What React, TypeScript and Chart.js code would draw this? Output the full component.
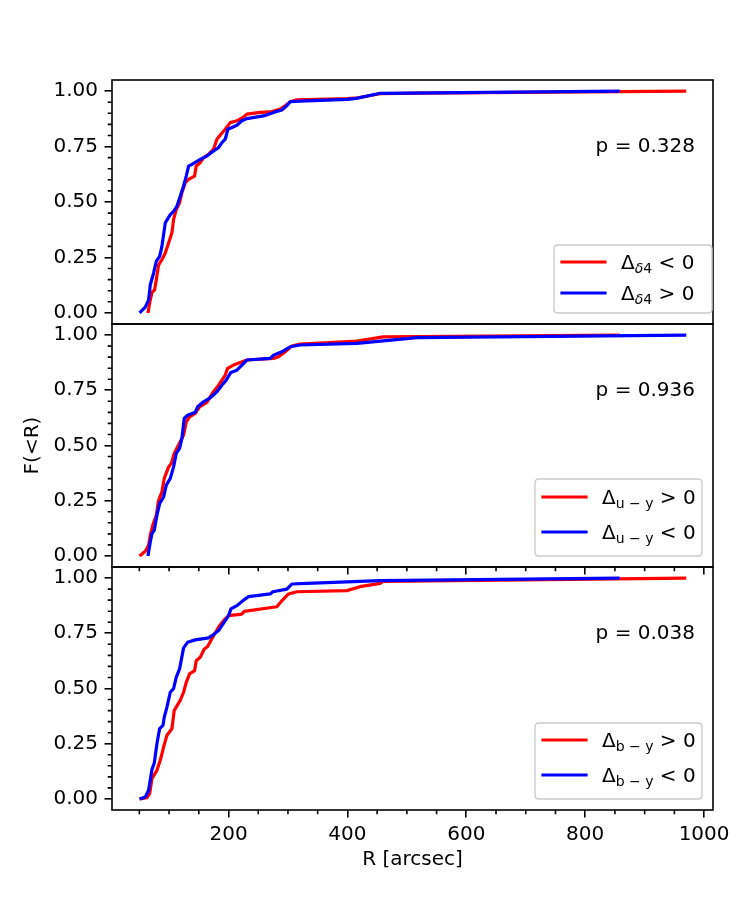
import React, { useEffect, useRef } from "react";
import { Chart, registerables } from "chart.js";

Chart.register(...registerables);

// ---- data: cumulative fraction F(<R) vs projected radius R [arcsec] ----

// Δδ4 < 0
const d4NegR = [64.5, 68.4, 71.2, 75.7, 78.5, 82.4, 88.0, 93.6, 99.2, 104.8, 107.6, 112.1, 117.7, 121.6, 127.2, 132.8, 142.9, 145.7, 152.4, 158.0, 166.4, 174.8, 180.5, 187.2, 194.5, 202.9, 214.1, 224.2, 230.9, 253.3, 270.1, 286.9, 295.3, 303.7, 314.9, 400, 418, 455, 520, 970];
const d4NegF = [0, 0.059, 0.092, 0.104, 0.149, 0.217, 0.24, 0.27, 0.315, 0.361, 0.421, 0.466, 0.496, 0.542, 0.587, 0.602, 0.617, 0.662, 0.677, 0.7, 0.715, 0.738, 0.783, 0.805, 0.828, 0.858, 0.866, 0.881, 0.896, 0.904, 0.906, 0.919, 0.934, 0.952, 0.961, 0.966, 0.97, 0.988, 0.991, 1.0];
// Δδ4 > 0
const d4PosR = [50.4, 60.0, 65.6, 68.4, 74.0, 78.5, 84.1, 88.0, 93.6, 102.0, 107.6, 113.2, 118.8, 124.4, 128.9, 132.8, 138.4, 152.4, 163.6, 174.8, 183.2, 188.9, 194.5, 198.9, 205.7, 214.1, 222.5, 230.9, 258.9, 275.7, 289.7, 298.1, 303.7, 320.5, 400, 415, 455, 858];
const d4PosF = [0, 0.026, 0.059, 0.127, 0.18, 0.232, 0.255, 0.3, 0.406, 0.443, 0.458, 0.481, 0.526, 0.572, 0.617, 0.662, 0.67, 0.692, 0.707, 0.73, 0.745, 0.768, 0.783, 0.828, 0.836, 0.846, 0.866, 0.876, 0.888, 0.904, 0.915, 0.934, 0.952, 0.955, 0.963, 0.967, 0.99, 1.0];

// Δu−y > 0
const uyPosR = [50.4, 60.0, 65.6, 68.4, 72.9, 78.5, 82.4, 88.0, 91.9, 99.2, 103.7, 108.7, 114.3, 118.8, 124.4, 128.9, 134.5, 144.0, 151.3, 163.6, 173.7, 183.2, 188.9, 194.5, 198.4, 208.5, 219.7, 230.9, 275.7, 284.1, 295.3, 306.5, 320.5, 416, 460, 858];
const uyPosF = [0, 0.021, 0.048, 0.094, 0.142, 0.184, 0.252, 0.29, 0.351, 0.403, 0.419, 0.464, 0.494, 0.517, 0.547, 0.607, 0.63, 0.645, 0.675, 0.695, 0.74, 0.773, 0.796, 0.819, 0.849, 0.864, 0.876, 0.887, 0.894, 0.902, 0.924, 0.95, 0.959, 0.973, 0.992, 1.0];
// Δu−y < 0
const uyNegR = [64.5, 68.4, 71.2, 75.1, 79.6, 84.1, 90.8, 95.3, 102.0, 107.6, 112.1, 117.7, 121.6, 125.5, 131.1, 144.0, 148.0, 158.0, 169.2, 180.5, 188.9, 196.1, 204.0, 214.1, 222.5, 230.9, 270.1, 275.7, 289.7, 303.7, 320.5, 416, 517, 970];
const uyNegF = [0, 0.063, 0.101, 0.116, 0.184, 0.237, 0.267, 0.32, 0.351, 0.403, 0.464, 0.487, 0.532, 0.623, 0.637, 0.65, 0.675, 0.698, 0.716, 0.743, 0.773, 0.796, 0.831, 0.841, 0.864, 0.887, 0.894, 0.909, 0.924, 0.947, 0.955, 0.962, 0.988, 1.0];

// Δb−y > 0
const byPosR = [50.4, 62.8, 67.3, 71.2, 79.6, 85.2, 90.8, 96.4, 104.8, 108.7, 118.8, 124.4, 128.9, 134.5, 143.0, 145.7, 152.4, 159.2, 164.8, 174.8, 183.2, 191.6, 200.1, 222.5, 226.4, 281.3, 289.7, 300.9, 315, 399, 421, 455, 460, 970];
const byPosF = [0, 0.006, 0.024, 0.092, 0.13, 0.175, 0.235, 0.288, 0.318, 0.401, 0.446, 0.483, 0.528, 0.566, 0.581, 0.626, 0.641, 0.679, 0.69, 0.739, 0.777, 0.807, 0.83, 0.837, 0.849, 0.87, 0.897, 0.928, 0.938, 0.943, 0.961, 0.976, 0.985, 1.0];
// Δb−y < 0
const byNegR = [50.4, 60.0, 65.6, 71.2, 75.1, 79.6, 84.1, 89.7, 91.9, 96.4, 102.0, 107.6, 112.1, 117.7, 124.4, 131.1, 144.0, 166.4, 174.8, 183.2, 194.5, 200.1, 204.0, 214.1, 225.3, 233.7, 270.1, 274.6, 298.1, 306.5, 331.7, 455, 858];
const byNegF = [0, 0.009, 0.039, 0.133, 0.163, 0.25, 0.318, 0.333, 0.37, 0.416, 0.483, 0.499, 0.551, 0.589, 0.684, 0.709, 0.72, 0.729, 0.744, 0.762, 0.807, 0.83, 0.86, 0.875, 0.9, 0.916, 0.928, 0.938, 0.95, 0.973, 0.976, 0.988, 1.0];

// KS p-values shown in each panel
const pLabels = ["p = 0.328", "p = 0.936", "p = 0.038"];

// axis ticks
const xTickValues = [200, 400, 600, 800, 1000];
const yTickValues = [0, 0.25, 0.5, 0.75, 1.0];
const xRange = [4, 1015];
const yRange = [-0.05, 1.05];

// ---- layout ----
const W = 750;
const H = 900;
const LEFT = 112;
const RIGHT = 713;
const FONT = "'DejaVu Sans', 'Liberation Sans', sans-serif";
const FS = 20;
const SUB_FS = 14;

type Seg = { t: string; it?: boolean };
type Entry = { color: string; sub: Seg[]; rel: string };
type LegendBox = { right: number; bottom: number; w: number; h: number; rows: number[] };
type Panel = {
  red: [number[], number[]];
  blue: [number[], number[]];
  p: string;
  entries: Entry[];
  top: number;
  bottom: number;
  legend: LegendBox;
};

const panels: Panel[] = [
  {
    red: [d4NegR, d4NegF],
    blue: [d4PosR, d4PosF],
    p: pLabels[0],
    entries: [
      { color: "#ff0000", sub: [{ t: "δ", it: true }, { t: "4" }], rel: "< 0" },
      { color: "#0000ff", sub: [{ t: "δ", it: true }, { t: "4" }], rel: "> 0" },
    ],
    top: 80,
    bottom: 324,
    legend: { right: 1, bottom: 11, w: 158, h: 68, rows: [17, 48] },
  },
  {
    red: [uyPosR, uyPosF],
    blue: [uyNegR, uyNegF],
    p: pLabels[1],
    entries: [
      { color: "#ff0000", sub: [{ t: "u − y" }], rel: "> 0" },
      { color: "#0000ff", sub: [{ t: "u − y" }], rel: "< 0" },
    ],
    top: 324,
    bottom: 567,
    legend: { right: 11, bottom: 11, w: 167, h: 77, rows: [18, 53] },
  },
  {
    red: [byPosR, byPosF],
    blue: [byNegR, byNegF],
    p: pLabels[2],
    entries: [
      { color: "#ff0000", sub: [{ t: "b − y" }], rel: "> 0" },
      { color: "#0000ff", sub: [{ t: "b − y" }], rel: "< 0" },
    ],
    top: 567,
    bottom: 810,
    legend: { right: 11, bottom: 11, w: 167, h: 76, rows: [17, 52] },
  },
];

function toPoints(series: [number[], number[]]) {
  const [rs, fs] = series;
  return rs.map((r, i) => ({ x: r, y: fs[i] }));
}

function roundRect(ctx: CanvasRenderingContext2D, x: number, y: number, w: number, h: number, r: number) {
  ctx.beginPath();
  ctx.moveTo(x + r, y);
  ctx.lineTo(x + w - r, y);
  ctx.quadraticCurveTo(x + w, y, x + w, y + r);
  ctx.lineTo(x + w, y + h - r);
  ctx.quadraticCurveTo(x + w, y + h, x + w - r, y + h);
  ctx.lineTo(x + r, y + h);
  ctx.quadraticCurveTo(x, y + h, x, y + h - r);
  ctx.lineTo(x, y + r);
  ctx.quadraticCurveTo(x, y, x + r, y);
  ctx.closePath();
}

// frame, minor ticks, p-value and legend of one panel
function makeDecor(panel: Panel, idx: number) {
  return {
    id: "panelDecor" + idx,
    afterDraw(chart: any) {
      const { ctx, chartArea: a } = chart;
      const xs = chart.scales.x;
      const ys = chart.scales.y;
      ctx.save();
      ctx.strokeStyle = "#000";
      ctx.lineWidth = 1.6;
      ctx.beginPath();
      for (let k = 1; k < 20; k++) {
        if (k % 5 === 0) continue;
        const py = ys.getPixelForValue(k * 0.05);
        ctx.moveTo(a.left, py);
        ctx.lineTo(a.left - 4.3, py);
      }
      if (idx > 0) {
        for (let k = 1; k <= 20; k++) {
          if (k % 4 === 0) continue;
          const px = xs.getPixelForValue(k * 50);
          ctx.moveTo(px, a.bottom);
          ctx.lineTo(px, a.bottom + 4.3);
        }
      }
      ctx.stroke();
      ctx.strokeRect(a.left, a.top, a.right - a.left, a.bottom - a.top);

      // p-value
      ctx.fillStyle = "#000";
      ctx.font = `${FS}px ${FONT}`;
      ctx.textAlign = "right";
      ctx.textBaseline = "middle";
      ctx.fillText(panel.p, a.right - 18, a.top + 67);

      // legend
      const L = panel.legend;
      const bx = a.right - L.right - L.w;
      const by = a.bottom - L.bottom - L.h;
      roundRect(ctx, bx, by, L.w, L.h, 4);
      ctx.fillStyle = "rgba(255,255,255,0.8)";
      ctx.fill();
      ctx.strokeStyle = "#cccccc";
      ctx.lineWidth = 1.4;
      ctx.stroke();
      panel.entries.forEach((e, i) => {
        const ry = by + L.rows[i];
        ctx.strokeStyle = e.color;
        ctx.lineWidth = 3.2;
        ctx.lineCap = "square";
        ctx.beginPath();
        ctx.moveTo(bx + 8, ry);
        ctx.lineTo(bx + 51, ry);
        ctx.stroke();
        const base = ry + 7.2;
        let tx = bx + 67;
        ctx.fillStyle = "#000";
        ctx.textAlign = "left";
        ctx.textBaseline = "alphabetic";
        ctx.font = `${FS}px ${FONT}`;
        ctx.fillText("Δ", tx, base);
        tx += ctx.measureText("Δ").width;
        e.sub.forEach((s) => {
          ctx.font = `${s.it ? "italic " : ""}${SUB_FS}px ${FONT}`;
          ctx.fillText(s.t, tx, base + 4);
          tx += ctx.measureText(s.t).width;
        });
        ctx.font = `${FS}px ${FONT}`;
        ctx.fillText(" " + e.rel, tx, base);
      });
      ctx.restore();
    },
  };
}

function makeConfig(panel: Panel, idx: number): any {
  const last = idx === panels.length - 1;
  const font = { family: FONT, size: FS };
  const tickGrid = {
    drawOnChartArea: false,
    drawTicks: true,
    tickLength: 7.5,
    color: "#000",
    lineWidth: 1.6,
  };
  const lineStyle = {
    borderWidth: 3.2,
    pointRadius: 0,
    tension: 0,
    fill: false,
    borderJoinStyle: "round",
  };
  return {
    type: "line",
    data: {
      datasets: [
        // red drawn first, blue over it
        { data: toPoints(panel.red), borderColor: "#ff0000", order: 1, ...lineStyle },
        { data: toPoints(panel.blue), borderColor: "#0000ff", order: 0, ...lineStyle },
      ],
    },
    options: {
      animation: false,
      responsive: false,
      maintainAspectRatio: false,
      events: [],
      layout: {
        padding: {
          left: 0,
          right: W - RIGHT,
          top: panel.top,
          bottom: last ? 0 : H - panel.bottom,
        },
      },
      plugins: {
        legend: { display: false },
        tooltip: { enabled: false },
      },
      scales: {
        x: {
          type: "linear",
          min: xRange[0],
          max: xRange[1],
          display: idx > 0,
          afterBuildTicks: (s: any) => {
            s.ticks = xTickValues.map((value) => ({ value }));
          },
          afterFit: (s: any) => {
            s.height = last ? H - panel.bottom : 0;
          },
          grid: tickGrid,
          border: { display: false },
          ticks: {
            display: last,
            font,
            color: "#000",
            padding: 5,
            maxRotation: 0,
            autoSkip: false,
            callback: (v: any) => String(v),
          },
          title: {
            display: last,
            text: "R [arcsec]",
            font,
            color: "#000",
            padding: { top: 0, bottom: 28 },
          },
        },
        y: {
          type: "linear",
          min: yRange[0],
          max: yRange[1],
          afterBuildTicks: (s: any) => {
            s.ticks = yTickValues.map((value) => ({ value }));
          },
          afterFit: (s: any) => {
            s.width = LEFT;
          },
          grid: tickGrid,
          border: { display: false },
          ticks: {
            font,
            color: "#000",
            padding: 6.5,
            callback: (v: any) => Number(v).toFixed(2),
          },
          title: {
            display: idx === 1,
            text: "F(<R)",
            font,
            color: "#000",
            padding: { top: 21, bottom: 0 },
          },
        },
      },
    },
    plugins: [makeDecor(panel, idx)],
  };
}

export default function App() {
  const canvases = useRef<(HTMLCanvasElement | null)[]>([]);

  useEffect(() => {
    const charts = panels.map((p, i) => new Chart(canvases.current[i] as HTMLCanvasElement, makeConfig(p, i)));
    return () => charts.forEach((c) => c.destroy());
  }, []);

  return (
    <div style={{ position: "fixed", left: 0, top: 0, width: W, height: H, background: "#fff" }}>
      {panels.map((_, i) => (
        <canvas
          key={i}
          ref={(el) => {
            canvases.current[i] = el;
          }}
          width={W}
          height={H}
          style={{ position: "absolute", left: 0, top: 0, width: W, height: H }}
        />
      ))}
    </div>
  );
}
